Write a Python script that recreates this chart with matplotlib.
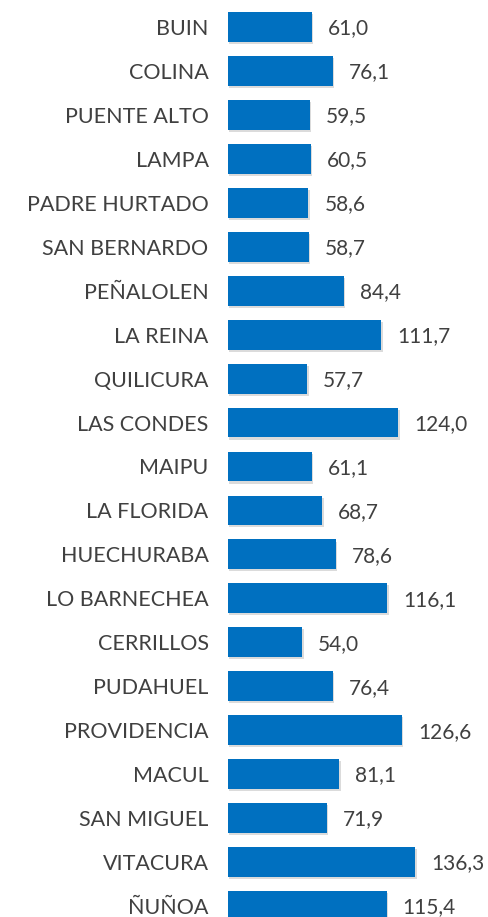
import matplotlib.pyplot as plt
import matplotlib.patheffects as pe

plt.rcParams['font.family'] = ['Lato', 'DejaVu Sans']

comunas = ['BUIN', 'COLINA', 'PUENTE ALTO', 'LAMPA', 'PADRE HURTADO', 'SAN BERNARDO',
           'PEÑALOLEN', 'LA REINA', 'QUILICURA', 'LAS CONDES', 'MAIPU', 'LA FLORIDA',
           'HUECHURABA', 'LO BARNECHEA', 'CERRILLOS', 'PUDAHUEL', 'PROVIDENCIA',
           'MACUL', 'SAN MIGUEL', 'VITACURA', 'ÑUÑOA']
valores = [61.0, 76.1, 59.5, 60.5, 58.6, 58.7, 84.4, 111.7, 57.7, 124.0, 61.1, 68.7,
           78.6, 116.1, 54.0, 76.4, 126.6, 81.1, 71.9, 136.3, 115.4]

W, H = 489, 917
fig = plt.figure(figsize=(W / 100, H / 100), dpi=100)
ax = fig.add_axes([228 / W, 0, 1 - 228 / W, 1])

pos = list(range(len(comunas)))
bars = ax.barh(pos, valores, height=0.68, color='#0070C0')
for b in bars:
    b.set_path_effects([pe.SimplePatchShadow(offset=(1, -1.5), shadow_rgbFace='#999999', alpha=0.35),
                        pe.Normal()])

for p, v in zip(pos, valores):
    ax.annotate(f'{v:.1f}'.replace('.', ','), (v, p), xytext=(11.5, -1),
                textcoords='offset points', va='center', ha='left',
                fontsize=15, color='#404040')

ax.set_xlim(0, 190)
ax.set_ylim(20.25, -0.614)
ax.set_yticks(pos)
ax.set_yticklabels(comunas, fontsize=15.5, color='#404040')
ax.tick_params(axis='y', length=0, pad=14)
ax.set_xticks([])
for s in ax.spines.values():
    s.set_visible(False)

fig.savefig('out.png', dpi=100)
